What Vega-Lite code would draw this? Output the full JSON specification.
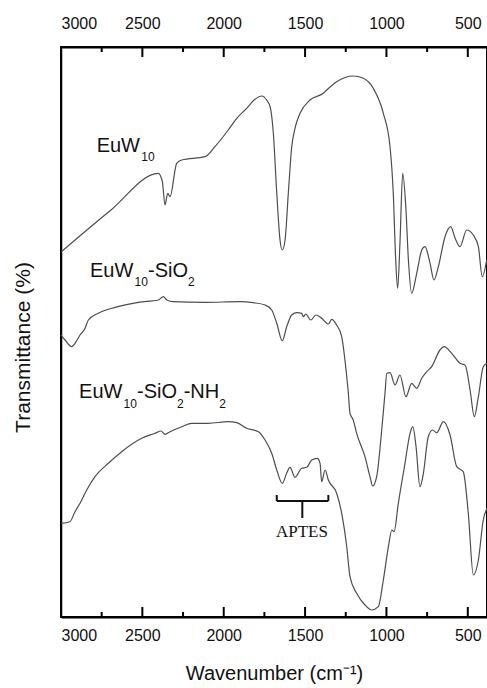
{
  "$schema": "https://vega.github.io/schema/vega-lite/v6.json",
  "width": 426,
  "height": 570,
  "autosize": {"type": "none"},
  "padding": {"left": 61, "top": 47, "right": 0, "bottom": 71},
  "config": {
    "view": {"stroke": "#000", "strokeWidth": 2},
    "font": "Liberation Sans",
    "axis": {
      "domainColor": "#000",
      "domainWidth": 2,
      "tickColor": "#000",
      "tickWidth": 2,
      "labelColor": "#111",
      "labelFont": "Liberation Sans",
      "labelFontSize": 16,
      "titleFont": "Liberation Sans",
      "titleFontWeight": "normal",
      "titleColor": "#111",
      "titleFontSize": 20,
      "grid": false,
      "format": "d"
    }
  },
  "datasets": {
    "spectra": [
      {"sample": "EuW10", "wn": 3000, "T": 365},
      {"sample": "EuW10", "wn": 2700, "T": 406},
      {"sample": "EuW10", "wn": 2402, "T": 443.7},
      {"sample": "EuW10", "wn": 2377, "T": 435.3},
      {"sample": "EuW10", "wn": 2361, "T": 412},
      {"sample": "EuW10", "wn": 2344, "T": 423.7},
      {"sample": "EuW10", "wn": 2330, "T": 420.3},
      {"sample": "EuW10", "wn": 2289, "T": 453.7},
      {"sample": "EuW10", "wn": 2258, "T": 457},
      {"sample": "EuW10", "wn": 2115, "T": 460.3},
      {"sample": "EuW10", "wn": 2054, "T": 470.3},
      {"sample": "EuW10", "wn": 1972, "T": 487},
      {"sample": "EuW10", "wn": 1920, "T": 498.7},
      {"sample": "EuW10", "wn": 1859, "T": 508.7},
      {"sample": "EuW10", "wn": 1808, "T": 517.7},
      {"sample": "EuW10", "wn": 1766, "T": 521},
      {"sample": "EuW10", "wn": 1736, "T": 517},
      {"sample": "EuW10", "wn": 1715, "T": 510.3},
      {"sample": "EuW10", "wn": 1695, "T": 483.7},
      {"sample": "EuW10", "wn": 1674, "T": 423.7},
      {"sample": "EuW10", "wn": 1654, "T": 377},
      {"sample": "EuW10", "wn": 1640, "T": 367},
      {"sample": "EuW10", "wn": 1623, "T": 377},
      {"sample": "EuW10", "wn": 1603, "T": 423.7},
      {"sample": "EuW10", "wn": 1582, "T": 470.3},
      {"sample": "EuW10", "wn": 1562, "T": 488.7},
      {"sample": "EuW10", "wn": 1531, "T": 503.7},
      {"sample": "EuW10", "wn": 1470, "T": 517},
      {"sample": "EuW10", "wn": 1388, "T": 523.7},
      {"sample": "EuW10", "wn": 1367, "T": 527},
      {"sample": "EuW10", "wn": 1306, "T": 535.3},
      {"sample": "EuW10", "wn": 1204, "T": 541},
      {"sample": "EuW10", "wn": 1142, "T": 538.7},
      {"sample": "EuW10", "wn": 1081, "T": 528.7},
      {"sample": "EuW10", "wn": 1019, "T": 503.7},
      {"sample": "EuW10", "wn": 978, "T": 470.3},
      {"sample": "EuW10", "wn": 958, "T": 423.7},
      {"sample": "EuW10", "wn": 943, "T": 357},
      {"sample": "EuW10", "wn": 931, "T": 328.7},
      {"sample": "EuW10", "wn": 917, "T": 373.7},
      {"sample": "EuW10", "wn": 900, "T": 443.7},
      {"sample": "EuW10", "wn": 881, "T": 410.3},
      {"sample": "EuW10", "wn": 865, "T": 357},
      {"sample": "EuW10", "wn": 845, "T": 323.7},
      {"sample": "EuW10", "wn": 814, "T": 343.7},
      {"sample": "EuW10", "wn": 783, "T": 367},
      {"sample": "EuW10", "wn": 763, "T": 370.3},
      {"sample": "EuW10", "wn": 732, "T": 353.7},
      {"sample": "EuW10", "wn": 708, "T": 337},
      {"sample": "EuW10", "wn": 681, "T": 350.3},
      {"sample": "EuW10", "wn": 640, "T": 380.3},
      {"sample": "EuW10", "wn": 605, "T": 390.3},
      {"sample": "EuW10", "wn": 578, "T": 378.7},
      {"sample": "EuW10", "wn": 548, "T": 370.3},
      {"sample": "EuW10", "wn": 507, "T": 387},
      {"sample": "EuW10", "wn": 466, "T": 382},
      {"sample": "EuW10", "wn": 435, "T": 370.3},
      {"sample": "EuW10", "wn": 411, "T": 340.3},
      {"sample": "EuW10", "wn": 384, "T": 357},

      {"sample": "EuW10-SiO2", "wn": 3000, "T": 282},
      {"sample": "EuW10-SiO2", "wn": 2975, "T": 277},
      {"sample": "EuW10-SiO2", "wn": 2934, "T": 270.3},
      {"sample": "EuW10-SiO2", "wn": 2914, "T": 273.7},
      {"sample": "EuW10-SiO2", "wn": 2883, "T": 282},
      {"sample": "EuW10-SiO2", "wn": 2852, "T": 288.7},
      {"sample": "EuW10-SiO2", "wn": 2832, "T": 297},
      {"sample": "EuW10-SiO2", "wn": 2771, "T": 303.7},
      {"sample": "EuW10-SiO2", "wn": 2668, "T": 309.7},
      {"sample": "EuW10-SiO2", "wn": 2525, "T": 314.7},
      {"sample": "EuW10-SiO2", "wn": 2402, "T": 317},
      {"sample": "EuW10-SiO2", "wn": 2371, "T": 320.3},
      {"sample": "EuW10-SiO2", "wn": 2350, "T": 317},
      {"sample": "EuW10-SiO2", "wn": 2310, "T": 315.3},
      {"sample": "EuW10-SiO2", "wn": 2115, "T": 314.7},
      {"sample": "EuW10-SiO2", "wn": 1900, "T": 315.3},
      {"sample": "EuW10-SiO2", "wn": 1818, "T": 314.3},
      {"sample": "EuW10-SiO2", "wn": 1746, "T": 312},
      {"sample": "EuW10-SiO2", "wn": 1705, "T": 307},
      {"sample": "EuW10-SiO2", "wn": 1674, "T": 293.7},
      {"sample": "EuW10-SiO2", "wn": 1640, "T": 276.3},
      {"sample": "EuW10-SiO2", "wn": 1613, "T": 290.3},
      {"sample": "EuW10-SiO2", "wn": 1582, "T": 302},
      {"sample": "EuW10-SiO2", "wn": 1551, "T": 304.3},
      {"sample": "EuW10-SiO2", "wn": 1521, "T": 303.7},
      {"sample": "EuW10-SiO2", "wn": 1511, "T": 300.3},
      {"sample": "EuW10-SiO2", "wn": 1496, "T": 303},
      {"sample": "EuW10-SiO2", "wn": 1465, "T": 297},
      {"sample": "EuW10-SiO2", "wn": 1433, "T": 302},
      {"sample": "EuW10-SiO2", "wn": 1398, "T": 298.7},
      {"sample": "EuW10-SiO2", "wn": 1357, "T": 293},
      {"sample": "EuW10-SiO2", "wn": 1336, "T": 297.7},
      {"sample": "EuW10-SiO2", "wn": 1306, "T": 292},
      {"sample": "EuW10-SiO2", "wn": 1275, "T": 280.3},
      {"sample": "EuW10-SiO2", "wn": 1255, "T": 257},
      {"sample": "EuW10-SiO2", "wn": 1234, "T": 223.7},
      {"sample": "EuW10-SiO2", "wn": 1224, "T": 203.7},
      {"sample": "EuW10-SiO2", "wn": 1204, "T": 197},
      {"sample": "EuW10-SiO2", "wn": 1183, "T": 183.7},
      {"sample": "EuW10-SiO2", "wn": 1132, "T": 160.3},
      {"sample": "EuW10-SiO2", "wn": 1101, "T": 140.3},
      {"sample": "EuW10-SiO2", "wn": 1084, "T": 131},
      {"sample": "EuW10-SiO2", "wn": 1060, "T": 140.3},
      {"sample": "EuW10-SiO2", "wn": 1029, "T": 187},
      {"sample": "EuW10-SiO2", "wn": 1009, "T": 223.7},
      {"sample": "EuW10-SiO2", "wn": 998, "T": 243.7},
      {"sample": "EuW10-SiO2", "wn": 978, "T": 244.3},
      {"sample": "EuW10-SiO2", "wn": 947, "T": 232},
      {"sample": "EuW10-SiO2", "wn": 917, "T": 242},
      {"sample": "EuW10-SiO2", "wn": 880, "T": 220.3},
      {"sample": "EuW10-SiO2", "wn": 845, "T": 233.7},
      {"sample": "EuW10-SiO2", "wn": 814, "T": 228.7},
      {"sample": "EuW10-SiO2", "wn": 783, "T": 238.7},
      {"sample": "EuW10-SiO2", "wn": 752, "T": 245.3},
      {"sample": "EuW10-SiO2", "wn": 722, "T": 250.3},
      {"sample": "EuW10-SiO2", "wn": 671, "T": 267},
      {"sample": "EuW10-SiO2", "wn": 646, "T": 270.3},
      {"sample": "EuW10-SiO2", "wn": 599, "T": 263.7},
      {"sample": "EuW10-SiO2", "wn": 548, "T": 253.7},
      {"sample": "EuW10-SiO2", "wn": 517, "T": 252},
      {"sample": "EuW10-SiO2", "wn": 486, "T": 227},
      {"sample": "EuW10-SiO2", "wn": 460, "T": 200.3},
      {"sample": "EuW10-SiO2", "wn": 435, "T": 220.3},
      {"sample": "EuW10-SiO2", "wn": 405, "T": 250.3},
      {"sample": "EuW10-SiO2", "wn": 382, "T": 253.7},

      {"sample": "EuW10-SiO2-NH2", "wn": 3000, "T": 93.7},
      {"sample": "EuW10-SiO2-NH2", "wn": 2945, "T": 95.3},
      {"sample": "EuW10-SiO2-NH2", "wn": 2914, "T": 105.3},
      {"sample": "EuW10-SiO2-NH2", "wn": 2883, "T": 113.7},
      {"sample": "EuW10-SiO2-NH2", "wn": 2842, "T": 127},
      {"sample": "EuW10-SiO2-NH2", "wn": 2791, "T": 140.3},
      {"sample": "EuW10-SiO2-NH2", "wn": 2709, "T": 153.7},
      {"sample": "EuW10-SiO2-NH2", "wn": 2627, "T": 165.3},
      {"sample": "EuW10-SiO2-NH2", "wn": 2504, "T": 178.7},
      {"sample": "EuW10-SiO2-NH2", "wn": 2422, "T": 183.7},
      {"sample": "EuW10-SiO2-NH2", "wn": 2385, "T": 186},
      {"sample": "EuW10-SiO2-NH2", "wn": 2361, "T": 182.7},
      {"sample": "EuW10-SiO2-NH2", "wn": 2330, "T": 185.3},
      {"sample": "EuW10-SiO2-NH2", "wn": 2258, "T": 190.3},
      {"sample": "EuW10-SiO2-NH2", "wn": 2197, "T": 193.7},
      {"sample": "EuW10-SiO2-NH2", "wn": 2095, "T": 193.7},
      {"sample": "EuW10-SiO2-NH2", "wn": 1972, "T": 195.3},
      {"sample": "EuW10-SiO2-NH2", "wn": 1920, "T": 194.3},
      {"sample": "EuW10-SiO2-NH2", "wn": 1859, "T": 188.7},
      {"sample": "EuW10-SiO2-NH2", "wn": 1787, "T": 185.3},
      {"sample": "EuW10-SiO2-NH2", "wn": 1746, "T": 177},
      {"sample": "EuW10-SiO2-NH2", "wn": 1705, "T": 163.7},
      {"sample": "EuW10-SiO2-NH2", "wn": 1674, "T": 147},
      {"sample": "EuW10-SiO2-NH2", "wn": 1640, "T": 133.7},
      {"sample": "EuW10-SiO2-NH2", "wn": 1613, "T": 143.7},
      {"sample": "EuW10-SiO2-NH2", "wn": 1593, "T": 149.7},
      {"sample": "EuW10-SiO2-NH2", "wn": 1562, "T": 139.7},
      {"sample": "EuW10-SiO2-NH2", "wn": 1521, "T": 148.7},
      {"sample": "EuW10-SiO2-NH2", "wn": 1490, "T": 149.7},
      {"sample": "EuW10-SiO2-NH2", "wn": 1459, "T": 157},
      {"sample": "EuW10-SiO2-NH2", "wn": 1425, "T": 158.7},
      {"sample": "EuW10-SiO2-NH2", "wn": 1408, "T": 153.7},
      {"sample": "EuW10-SiO2-NH2", "wn": 1398, "T": 135.3},
      {"sample": "EuW10-SiO2-NH2", "wn": 1377, "T": 147},
      {"sample": "EuW10-SiO2-NH2", "wn": 1357, "T": 137},
      {"sample": "EuW10-SiO2-NH2", "wn": 1306, "T": 123.7},
      {"sample": "EuW10-SiO2-NH2", "wn": 1275, "T": 103.7},
      {"sample": "EuW10-SiO2-NH2", "wn": 1244, "T": 70.3},
      {"sample": "EuW10-SiO2-NH2", "wn": 1224, "T": 40.3},
      {"sample": "EuW10-SiO2-NH2", "wn": 1183, "T": 23.7},
      {"sample": "EuW10-SiO2-NH2", "wn": 1132, "T": 12},
      {"sample": "EuW10-SiO2-NH2", "wn": 1090, "T": 7},
      {"sample": "EuW10-SiO2-NH2", "wn": 1050, "T": 10.3},
      {"sample": "EuW10-SiO2-NH2", "wn": 1019, "T": 37},
      {"sample": "EuW10-SiO2-NH2", "wn": 988, "T": 70.3},
      {"sample": "EuW10-SiO2-NH2", "wn": 967, "T": 87},
      {"sample": "EuW10-SiO2-NH2", "wn": 953, "T": 85.3},
      {"sample": "EuW10-SiO2-NH2", "wn": 927, "T": 113.7},
      {"sample": "EuW10-SiO2-NH2", "wn": 886, "T": 153.7},
      {"sample": "EuW10-SiO2-NH2", "wn": 855, "T": 183.7},
      {"sample": "EuW10-SiO2-NH2", "wn": 838, "T": 190.3},
      {"sample": "EuW10-SiO2-NH2", "wn": 818, "T": 170.3},
      {"sample": "EuW10-SiO2-NH2", "wn": 794, "T": 130.3},
      {"sample": "EuW10-SiO2-NH2", "wn": 773, "T": 143.7},
      {"sample": "EuW10-SiO2-NH2", "wn": 743, "T": 180.3},
      {"sample": "EuW10-SiO2-NH2", "wn": 716, "T": 187},
      {"sample": "EuW10-SiO2-NH2", "wn": 691, "T": 184.3},
      {"sample": "EuW10-SiO2-NH2", "wn": 650, "T": 195.3},
      {"sample": "EuW10-SiO2-NH2", "wn": 609, "T": 182},
      {"sample": "EuW10-SiO2-NH2", "wn": 568, "T": 150.3},
      {"sample": "EuW10-SiO2-NH2", "wn": 528, "T": 145.3},
      {"sample": "EuW10-SiO2-NH2", "wn": 497, "T": 103.7},
      {"sample": "EuW10-SiO2-NH2", "wn": 466, "T": 42},
      {"sample": "EuW10-SiO2-NH2", "wn": 435, "T": 57},
      {"sample": "EuW10-SiO2-NH2", "wn": 405, "T": 97},
      {"sample": "EuW10-SiO2-NH2", "wn": 382, "T": 108.7}
    ],
    "frame": [
      {"part": "bottom edge", "x1": 3000, "x2": 382, "y1": 0, "y2": 0},
      {"part": "top edge", "x1": 3000, "x2": 382, "y1": 570, "y2": 570},
      {"part": "major", "x1": 2500, "x2": 2500, "y1": 0, "y2": 10},
      {"part": "major", "x1": 2000, "x2": 2000, "y1": 0, "y2": 10},
      {"part": "major", "x1": 1500, "x2": 1500, "y1": 0, "y2": 10},
      {"part": "major", "x1": 1000, "x2": 1000, "y1": 0, "y2": 10},
      {"part": "major", "x1": 500, "x2": 500, "y1": 0, "y2": 10},
      {"part": "minor", "x1": 2750, "x2": 2750, "y1": 0, "y2": 5},
      {"part": "minor", "x1": 2250, "x2": 2250, "y1": 0, "y2": 5},
      {"part": "minor", "x1": 1750, "x2": 1750, "y1": 0, "y2": 5},
      {"part": "minor", "x1": 1250, "x2": 1250, "y1": 0, "y2": 5},
      {"part": "minor", "x1": 750, "x2": 750, "y1": 0, "y2": 5},
      {"part": "major", "x1": 2500, "x2": 2500, "y1": 560, "y2": 570},
      {"part": "major", "x1": 2000, "x2": 2000, "y1": 560, "y2": 570},
      {"part": "major", "x1": 1500, "x2": 1500, "y1": 560, "y2": 570},
      {"part": "major", "x1": 1000, "x2": 1000, "y1": 560, "y2": 570},
      {"part": "major", "x1": 500, "x2": 500, "y1": 560, "y2": 570},
      {"part": "minor", "x1": 2750, "x2": 2750, "y1": 565, "y2": 570},
      {"part": "minor", "x1": 2250, "x2": 2250, "y1": 565, "y2": 570},
      {"part": "minor", "x1": 1750, "x2": 1750, "y1": 565, "y2": 570},
      {"part": "minor", "x1": 1250, "x2": 1250, "y1": 565, "y2": 570},
      {"part": "minor", "x1": 750, "x2": 750, "y1": 565, "y2": 570}
    ],
    "bracket": [
      {"part": "bar", "x1": 1674, "x2": 1357, "y1": 116, "y2": 116},
      {"part": "left end", "x1": 1674, "x2": 1674, "y1": 116, "y2": 122},
      {"part": "right end", "x1": 1357, "x2": 1357, "y1": 116, "y2": 122},
      {"part": "stem", "x1": 1517, "x2": 1517, "y1": 99, "y2": 116}
    ],
    "labelMain": [
      {"text": "EuW", "wn": 2781, "T": 465.3},
      {"text": "EuW", "wn": 2822, "T": 340.3},
      {"text": "-SiO", "wn": 2465, "T": 340.3},
      {"text": "EuW", "wn": 2889, "T": 218.7},
      {"text": "-SiO", "wn": 2533, "T": 218.7},
      {"text": "-NH", "wn": 2246, "T": 218.7}
    ],
    "labelSub": [
      {"text": "10", "wn": 2507, "T": 456},
      {"text": "10", "wn": 2548, "T": 331.5},
      {"text": "2", "wn": 2219, "T": 331.5},
      {"text": "10", "wn": 2616, "T": 209},
      {"text": "2", "wn": 2287, "T": 209},
      {"text": "2", "wn": 2028, "T": 209}
    ],
    "notes": [
      {"text": "APTES", "wn": 1519, "T": 85}
    ]
  },
  "layer": [
    {
      "data": {"name": "spectra"},
      "mark": {"type": "line", "color": "#4d4d4d", "strokeWidth": 1.2, "interpolate": "monotone"},
      "encoding": {
        "x": {
          "field": "wn", "type": "quantitative",
          "scale": {"domain": [382, 3000], "reverse": true, "nice": false, "zero": false},
          "axis": {"orient": "bottom", "values": [3000, 2500, 2000, 1500, 1000, 500], "ticks": false, "tickSize": 0, "domain": true, "labelPadding": 10, "title": "Wavenumber (cm⁻¹)", "titlePadding": 20}
        },
        "y": {
          "field": "T", "type": "quantitative",
          "scale": {"domain": [0, 570], "nice": false},
          "axis": {"orient": "left", "ticks": false, "labels": false, "domainWidth": 1.5, "title": "Transmittance (%)", "titleFontSize": 21, "titlePadding": 28, "titleY": 300}
        },
        "detail": {"field": "sample"}
      }
    },
    {
      "data": {"name": "spectra"},
      "mark": {"type": "point", "opacity": 0},
      "encoding": {
        "x": {
          "field": "wn", "type": "quantitative",
          "axis": {"orient": "top", "values": [3000, 2500, 2000, 1500, 1000, 500], "ticks": false, "tickSize": 0, "domain": true, "labelPadding": 16, "title": null}
        }
      }
    },
    {
      "data": {"name": "frame"},
      "mark": {"type": "rule", "color": "#000", "strokeWidth": 2},
      "encoding": {
        "x": {"field": "x1", "type": "quantitative", "axis": null},
        "x2": {"field": "x2"},
        "y": {"field": "y1", "type": "quantitative", "axis": null},
        "y2": {"field": "y2"}
      }
    },
    {
      "data": {"name": "bracket"},
      "mark": {"type": "rule", "color": "#111", "strokeWidth": 2},
      "encoding": {
        "x": {"field": "x1", "type": "quantitative", "axis": null},
        "x2": {"field": "x2"},
        "y": {"field": "y1", "type": "quantitative", "axis": null},
        "y2": {"field": "y2"}
      }
    },
    {
      "data": {"name": "labelMain"},
      "mark": {"type": "text", "align": "left", "baseline": "alphabetic", "fontSize": 20, "font": "Liberation Sans", "color": "#111"},
      "encoding": {
        "x": {"field": "wn", "type": "quantitative", "axis": null},
        "y": {"field": "T", "type": "quantitative", "axis": null},
        "text": {"field": "text"}
      }
    },
    {
      "data": {"name": "labelSub"},
      "mark": {"type": "text", "align": "left", "baseline": "alphabetic", "fontSize": 12, "font": "Liberation Sans", "color": "#111"},
      "encoding": {
        "x": {"field": "wn", "type": "quantitative", "axis": null},
        "y": {"field": "T", "type": "quantitative", "axis": null},
        "text": {"field": "text"}
      }
    },
    {
      "data": {"name": "notes"},
      "mark": {"type": "text", "align": "center", "baseline": "middle", "fontSize": 17, "font": "Liberation Serif", "color": "#111"},
      "encoding": {
        "x": {"field": "wn", "type": "quantitative", "axis": null},
        "y": {"field": "T", "type": "quantitative", "axis": null},
        "text": {"field": "text"}
      }
    }
  ],
  "resolve": {"axis": {"x": "independent", "y": "independent"}}
}
